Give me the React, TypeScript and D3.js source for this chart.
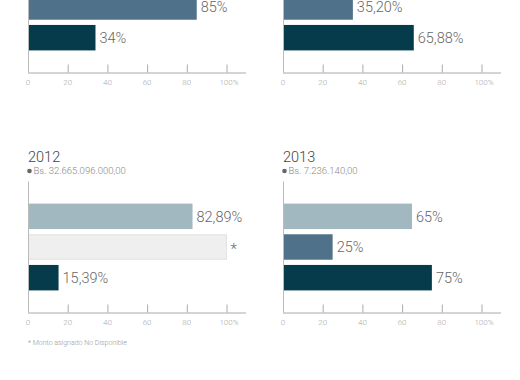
import React from "react";
import * as d3 from "d3";

const years = ["", "", "2012", "2013"];
const amounts = ["", "", "Bs. 32.665.096.000,00", "Bs. 7.236.140,00"];
const categories = ["A", "B", "C"];
const seriesA: (number | null)[] = [null, null, 82.89, 65];
const seriesB: (number | null)[] = [85, 35.2, null, 25];
const seriesC: (number | null)[] = [34, 65.88, 15.39, 75];
const tickValues = [0, 20, 40, 60, 80, 100];
const tickLabels = ["0", "20", "40", "60", "80", "100%"];
const footnote = "* Monto asignado No Disponible";

const colors = ["#a2b8c1", "#4f7189", "#053b4b"];
const FONT = "Roboto, sans-serif";

const fmt = (v: number) =>
  Number.isInteger(v) ? `${v}%` : `${v.toFixed(2).replace(".", ",")}%`;

export default function App() {
  const W = 520, H = 380;
  const panelX = [28, 283, 28, 283];
  const panelTop = [-58.5, -58.5, 181.5, 181.5]; // top of plot area
  const plotH = 131;
  const x = d3.scaleLinear().domain([0, 100]).range([0, 198.5]);
  const y = d3
    .scaleBand<string>()
    .domain(categories)
    .range([0, plotH])
    .paddingInner(0.17)
    .paddingOuter(0.72);

  return (
    <svg width={W} height={H} style={{ position: "absolute", left: 0, top: 0, background: "#fff" }}>
      {panelX.map((tx, i) => {
        const vals = [seriesA[i], seriesB[i], seriesC[i]];
        const ty = panelTop[i];
        return (
          <g key={i} transform={`translate(${tx},${ty})`}>
            {years[i] && (
              <text x={0} y={-19.5} fontFamily={FONT} fontWeight={300} fontSize={14.5} fill="#444">{years[i]}</text>
            )}
            {amounts[i] && (
              <g>
                <circle cx={1.5} cy={-10.5} r={2.3} fill="#666" />
                <text x={5.5} y={-7.3} fontFamily={FONT} fontWeight={300} fontSize={9.5} fill="#888">{amounts[i]}</text>
              </g>
            )}
            {categories.map((c, j) => {
              const v = vals[j];
              const by = y(c)!;
              const bh = y.bandwidth();
              if (v === null) {
                if (i < 2) return null;
                return (
                  <g key={c}>
                    <rect x={0.5} y={by + 0.5} width={x(100) - 0.5} height={bh - 1} fill="#efefef" stroke="#e2e2e2" />
                    <text x={x(100) + 4} y={by + bh / 2 + 7} fontFamily={FONT} fontWeight={300} fontSize={15} fill="#666">*</text>
                  </g>
                );
              }
              return (
                <g key={c}>
                  <rect x={0} y={by} width={x(v)} height={bh} fill={colors[j]} />
                  <text x={x(v) + 4} y={by + bh / 2} dy="0.36em" fontFamily={FONT} fontWeight={300} fontSize={14.5} fill="#666">{fmt(v)}</text>
                </g>
              );
            })}
            <line x1={0.5} x2={0.5} y1={0} y2={plotH} stroke="#bbb" />
            <line x1={0} x2={218} y1={plotH + 0.5} y2={plotH + 0.5} stroke="#aaa" />
            {tickValues.map((t, k) => (
              <g key={t}>
                {k > 0 && <line x1={x(t) + 0.5} x2={x(t) + 0.5} y1={plotH - 8} y2={plotH} stroke="#aaa" />}
                <text
                  x={x(t)}
                  dx={k === tickValues.length - 1 ? 2.5 : 0}
                  y={plotH + 10}
                  dy="0.35em"
                  textAnchor="middle"
                  fontFamily={FONT}
                  fontWeight={300}
                  fontSize={8}
                  fill="#aaa"
                >
                  {tickLabels[k]}
                </text>
              </g>
            ))}
          </g>
        );
      })}
      <text x={28} y={345} fontFamily={FONT} fontWeight={300} fontSize={7} fill="#999">{footnote}</text>
    </svg>
  );
}
